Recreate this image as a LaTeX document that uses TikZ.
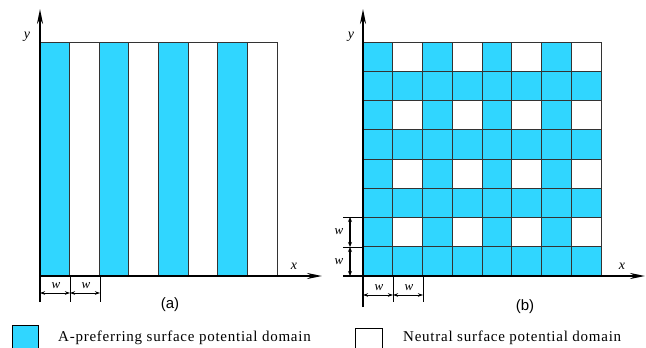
\documentclass[tikz,border=0pt]{standalone}
\usepackage{fontspec}
\setmainfont{Liberation Serif}
\newfontfamily\arialf{Liberation Sans}
\newfontfamily\legfont[LetterSpace=5]{Liberation Serif}
\usetikzlibrary{arrows.meta}
\definecolor{cy}{RGB}{48,214,255}
\begin{document}
\begin{tikzpicture}[x=1pt,y=-1pt,
  gridline/.style={draw=black!80,line width=0.8pt},
  axis/.style={line width=1.8pt,-{Stealth[length=15pt,width=6pt]}},
  tickline/.style={line width=0.8pt},
  dimh/.style={line width=0.8pt,{Stealth[length=5pt,width=3.5pt]}-{Stealth[length=5pt,width=3.5pt]}},
  dimv/.style={line width=1.6pt,{Stealth[length=5pt,width=4pt]}-{Stealth[length=5pt,width=4pt]}},
  lab/.style={font=\itshape\fontsize{14}{14}\selectfont,inner sep=0pt},
  wlab/.style={font=\itshape\fontsize{13}{13}\selectfont,inner sep=0pt},
  captext/.style={font=\arialf\fontsize{15}{15}\selectfont,inner sep=0pt},
  legtext/.style={font=\legfont\fontsize{15}{15}\selectfont,inner sep=0pt,anchor=west}]
\useasboundingbox (0,0) rectangle (646,348);

% ---------- panel (a) ----------
\foreach \i in {0,2,4,6}
  \fill[cy] (40+\i*29.625,42) rectangle ++(29.625,234);
\foreach \i in {1,...,7}
  \draw[gridline] (40+\i*29.625,42) -- (40+\i*29.625,276);
\draw[gridline] (40,42) rectangle (277,276);

\coordinate (ay0) at (40,302);
\coordinate (ayt) at (40,9);
\coordinate (ax0) at (40,276);
\coordinate (axt) at (322,276);
\draw[axis] (ay0) -- (ayt);
\draw[axis] (ax0) -- (axt);
\node[lab] (ya) at (27,37) {y};
\node[lab] (xa) at (294,266) {x};

\coordinate (at1) at (70,276);
\coordinate (at1b) at (70,302);
\coordinate (at2) at (100,276);
\coordinate (at2b) at (100,302);
\draw[tickline] (at1) -- (at1b);
\draw[tickline] (at2) -- (at2b);
\coordinate (ad0) at (40,293);
\coordinate (ad1) at (70,293);
\coordinate (ad2) at (100,293);
\draw[dimh] (ad0) -- (ad1);
\draw[dimh] (ad1) -- (ad2);
\node[wlab] (wa1) at (56,286) {w};
\node[wlab] (wa2) at (86,286) {w};
\node[captext] (capa) at (170,305) {(a)};

% ---------- panel (b) ----------
\fill[cy] (363,42) rectangle (601,276);
\foreach \r in {0,2,4,6}
  \foreach \c in {1,3,5,7}
    \fill[white] (363+\c*29.75,42+\r*29.25) rectangle ++(29.75,29.25);
\foreach \i in {1,...,7} {
  \draw[gridline] (363+\i*29.75,42) -- (363+\i*29.75,276);
  \draw[gridline] (363,42+\i*29.25) -- (601,42+\i*29.25);
}
\draw[gridline] (363,42) rectangle (601,276);

\coordinate (by0) at (363,307);
\coordinate (byt) at (363,9);
\coordinate (bx0) at (343,276);
\coordinate (bxt) at (645,276);
\draw[axis] (by0) -- (byt);
\draw[axis] (bx0) -- (bxt);
\node[lab] (yb) at (351,37) {y};
\node[lab] (xb) at (622,266) {x};

\coordinate (bt1) at (393,276);
\coordinate (bt1b) at (393,302);
\coordinate (bt2) at (423,276);
\coordinate (bt2b) at (423,302);
\draw[tickline] (bt1) -- (bt1b);
\draw[tickline] (bt2) -- (bt2b);
\coordinate (bd0) at (363,295);
\coordinate (bd1) at (393,295);
\coordinate (bd2) at (423,295);
\draw[dimh] (bd0) -- (bd1);
\draw[dimh] (bd1) -- (bd2);
\node[wlab] (wb1) at (379,288) {w};
\node[wlab] (wb2) at (409,288) {w};

\coordinate (bl1) at (343,217);
\coordinate (bl1r) at (363,217);
\coordinate (bl2) at (343,247);
\coordinate (bl2r) at (363,247);
\draw[tickline] (bl1) -- (bl1r);
\draw[tickline] (bl2) -- (bl2r);
\coordinate (bv0) at (350,217);
\coordinate (bv1) at (350,247);
\coordinate (bv2) at (350,276);
\draw[dimv] (bv0) -- (bv1);
\draw[dimv] (bv1) -- (bv2);
\node[wlab] (wb3) at (339,232) {w};
\node[wlab] (wb4) at (339,262) {w};
\node[captext] (capb) at (525,307) {(b)};

% ---------- legend ----------
\node[draw=black,line width=0.8pt,fill=cy,minimum width=26pt,minimum height=26pt,inner sep=0pt,anchor=north west] (lega) at (12,325) {};
\node[legtext] (legat) at (58,338) {A-preferring surface potential domain};
\node[draw=black,line width=0.8pt,fill=white,minimum width=27pt,minimum height=24pt,inner sep=0pt,anchor=north west] (legb) at (355,328) {};
\node[legtext] (legbt) at (403,338) {Neutral surface potential domain};
\end{tikzpicture}
\end{document}
